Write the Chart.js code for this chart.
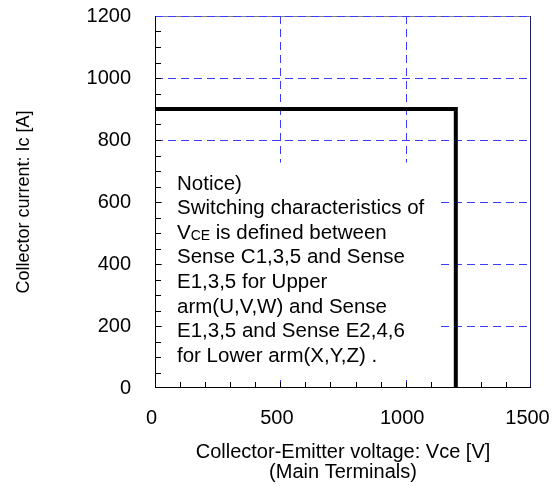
<!DOCTYPE html>
<html>
<head>
<meta charset="utf-8">
<script src="https://cdn.jsdelivr.net/npm/chart.js@4"></script>
<style>
  body { margin: 0; background: #fff; }
</style>
</head>
<body>
<canvas id="chart" width="557" height="486"></canvas>
<script>
// safe operating area corner (Vce, Ic)
const vceValues = [0, 1200, 1200];
const icValues = [900, 900, 0];

const xTicks = [0, 500, 1000, 1500];
const yTicks = [0, 200, 400, 600, 800, 1000, 1200];

const xTitle = ['Collector-Emitter voltage: Vce [V]', '(Main Terminals)'];
const yTitle = 'Collector current: Ic [A]';

const noticeLines = [
  'Notice)',
  'Switching characteristics of',
  '@VCE is defined between',
  'Sense C1,3,5 and Sense',
  'E1,3,5 for Upper',
  'arm(U,V,W) and Sense',
  'E1,3,5 and Sense E2,4,6',
  'for Lower arm(X,Y,Z) .'
];

const FONT = '"Liberation Sans", Arial, sans-serif';
const gridBlue = '#3c3cff';

const points = vceValues.map((v, i) => ({ x: v, y: icValues[i] }));

const extras = {
  id: 'extras',
  beforeDatasetsDraw(chart) {
    const a = chart.chartArea, ctx = chart.ctx;
    const x = chart.scales.x, y = chart.scales.y;
    ctx.save();
    // top frame line, gray
    ctx.strokeStyle = '#808080';
    ctx.lineWidth = 1;
    ctx.beginPath();
    ctx.moveTo(a.left, a.top + 0.5);
    ctx.lineTo(a.right, a.top + 0.5);
    ctx.stroke();

    // dashed grid
    ctx.strokeStyle = gridBlue;
    ctx.setLineDash([8, 5]);
    ctx.beginPath();
    yTicks.slice(1).forEach(v => {
      const py = Math.round(y.getPixelForValue(v)) + 0.5;
      ctx.moveTo(a.left, py);
      ctx.lineTo(a.right, py);
    });
    xTicks.slice(1, -1).forEach(v => {
      const px = Math.round(x.getPixelForValue(v)) + 0.5;
      ctx.moveTo(px, a.top);
      ctx.lineTo(px, a.bottom);
    });
    ctx.stroke();
    ctx.setLineDash([]);

    // white note box hides part of the grid
    const l = x.getPixelForValue(28), r = x.getPixelForValue(1125);
    const t = y.getPixelForValue(727), b = y.getPixelForValue(32);
    ctx.fillStyle = '#fff';
    ctx.fillRect(l, t, r - l, b - t);
    ctx.restore();
  },
  afterDatasetsDraw(chart) {
    const a = chart.chartArea, ctx = chart.ctx;
    const x = chart.scales.x, y = chart.scales.y;
    ctx.save();
    ctx.lineWidth = 1;
    ctx.strokeStyle = '#1e1e5e';
    ctx.beginPath();
    ctx.moveTo(a.right - 0.5, a.top);
    ctx.lineTo(a.right - 0.5, a.bottom);
    ctx.stroke();

    ctx.strokeStyle = '#000';
    ctx.beginPath();
    ctx.moveTo(a.left + 0.5, a.top);
    ctx.lineTo(a.left + 0.5, a.bottom);
    ctx.moveTo(a.left, a.bottom - 0.5);
    ctx.lineTo(a.right, a.bottom - 0.5);
    for (let v = 50; v < 1200; v += 50) {
      const py = Math.round(y.getPixelForValue(v)) + 0.5;
      ctx.moveTo(a.left, py);
      ctx.lineTo(a.left + 6, py);
    }
    for (let v = 100; v < 1500; v += 100) {
      const px = Math.round(x.getPixelForValue(v)) + 0.5;
      ctx.moveTo(px, a.bottom);
      ctx.lineTo(px, a.bottom - 6);
    }
    ctx.stroke();

    // notice text
    ctx.fillStyle = '#000';
    ctx.textBaseline = 'middle';
    const tx = 177;
    noticeLines.forEach((line, i) => {
      const ty = 184 + i * 24.6;
      ctx.font = '20.5px ' + FONT;
      if (line.startsWith('@')) {
        ctx.fillText('V', tx, ty);
        const w = ctx.measureText('V').width;
        ctx.textBaseline = 'alphabetic';
        const base = ty + ctx.measureText('V').actualBoundingBoxAscent / 2;
        ctx.font = '14px ' + FONT;
        ctx.fillText('CE', tx + w, base);
        const w2 = ctx.measureText('CE').width;
        ctx.textBaseline = 'middle';
        ctx.font = '20.5px ' + FONT;
        ctx.fillText(line.slice(4), tx + w + w2, ty);
      } else {
        ctx.fillText(line, tx, ty);
      }
    });
    ctx.restore();
  }
};

new Chart(document.getElementById('chart'), {
  type: 'scatter',
  data: {
    datasets: [{
      data: points,
      showLine: true,
      borderColor: '#000',
      borderWidth: 4,
      pointRadius: 0,
      borderJoinStyle: 'miter'
    }]
  },
  options: {
    responsive: false,
    animation: false,
    layout: { padding: { left: 8, right: 26, top: 16, bottom: 0 } },
    plugins: { legend: { display: false }, tooltip: { enabled: false } },
    scales: {
      x: {
        type: 'linear',
        min: 0, max: 1500,
        afterBuildTicks: s => { s.ticks = xTicks.map(v => ({ value: v })); },
        afterFit: s => { s.height = 98; s.paddingLeft = 0; s.paddingRight = 0; },
        ticks: { color: '#000', font: { family: FONT, size: 20 }, padding: 18, labelOffset: -3.5, maxRotation: 0, callback: v => String(v) },
        grid: { display: false, drawTicks: false },
        border: { display: false },
        title: { display: true, text: xTitle, color: '#000', font: { family: FONT, size: 20, lineHeight: 1.0 }, padding: { top: 0, bottom: 4 } }
      },
      y: {
        min: 0, max: 1200,
        afterBuildTicks: s => { s.ticks = yTicks.map(v => ({ value: v })); },
        afterFit: s => { s.width = 147; s.paddingTop = 0; s.paddingBottom = 0; },
        ticks: { color: '#000', font: { family: FONT, size: 20 }, padding: 24, callback: v => String(v) },
        grid: { display: false, drawTicks: false },
        border: { display: false },
        title: { display: true, text: yTitle, color: '#000', font: { family: FONT, size: 18 }, padding: { top: 5, bottom: 0 } }
      }
    }
  },
  plugins: [extras]
});
</script>
</body>
</html>
